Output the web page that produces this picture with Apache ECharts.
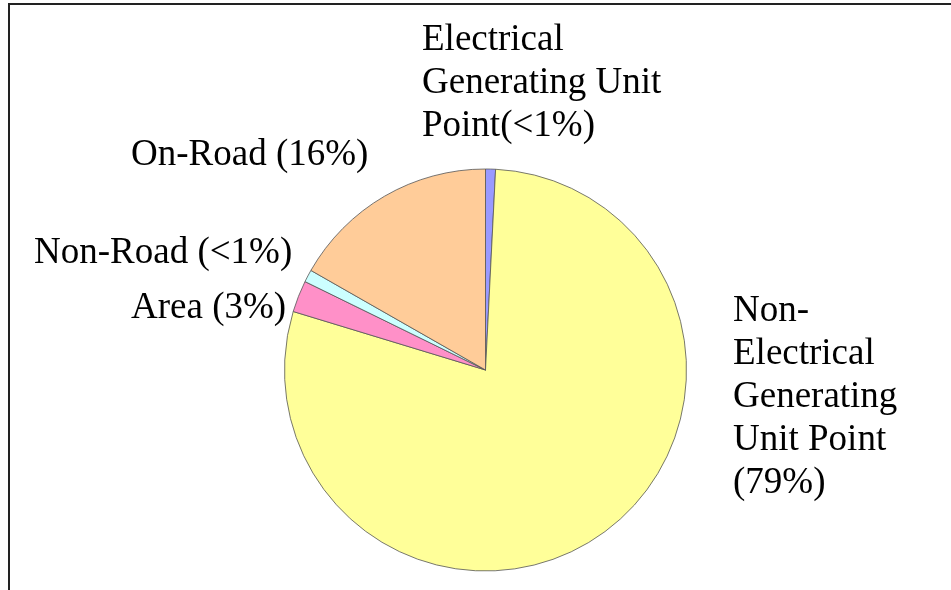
<!DOCTYPE html>
<html>
<head>
    <meta charset="utf-8">
    <title>Emission sources</title>
    <script src="https://cdn.jsdelivr.net/npm/echarts@6/dist/echarts.min.js"></script>
    <style>
        html, body { margin: 0; padding: 0; background: #fff; }
    </style>
</head>
<body>
<div id="main" style="width: 951px;height:590px;"></div>
<script type="text/javascript">
    // categories, clockwise from 12 o'clock
    var categories = ['Electrical Generating Unit Point', 'Non-Electrical Generating Unit Point', 'Area', 'Non-Road', 'On-Road'];
    // share of the pie
    var values = [0.8, 78.9, 2.55, 1.0, 16.75];
    // label text as printed
    var labelTexts = [
        'Electrical\nGenerating Unit\nPoint(<1%)',
        'Non-\nElectrical\nGenerating\nUnit Point\n(79%)',
        'Area (3%)',
        'Non-Road (<1%)',
        'On-Road (16%)'
    ];

    var colors = ['#9999ff', '#ffff99', '#ff90c8', '#ccffff', '#ffcc99'];
    // top-left corner of each label block
    var labelPos = [[422, 19], [733, 290], [131, 287], [34, 232], [131, 134]];

    var pieData = [];
    for (var i = 0; i < categories.length; i++) {
        pieData.push({
            name: categories[i],
            value: values[i],
            itemStyle: {color: colors[i]}
        });
    }

    var myChart = echarts.init(document.getElementById('main'));
    var option = {
        animation: false,
        backgroundColor: '#ffffff',
        graphic: [
            {
                type: 'polyline',
                shape: {points: [[9, 590], [9, 4], [951, 4]]},
                style: {stroke: '#222', lineWidth: 2, fill: null}
            }
        ],
        series: [
            {
                type: 'pie',
                center: [485.5, 370],
                radius: 201,
                startAngle: 90,
                clockwise: true,
                silent: true,
                data: pieData,
                itemStyle: {
                    borderColor: '#555',
                    borderWidth: 0.8
                },
                label: {
                    show: true,
                    position: 'outside',
                    alignTo: 'none',
                    overflow: 'none',
                    formatter: function (p) {
                        return labelTexts[p.dataIndex];
                    },
                    color: '#000',
                    fontFamily: "'Liberation Serif', 'Times New Roman', serif",
                    fontSize: 37,
                    lineHeight: 43
                },
                labelLine: {show: false},
                labelLayout: function (params) {
                    var p = labelPos[params.dataIndex];
                    return {
                        x: p[0],
                        y: p[1],
                        align: 'left',
                        verticalAlign: 'top',
                        hideOverlap: false
                    };
                }
            }
        ]
    };
    myChart.setOption(option);
</script>
</body>
</html>
